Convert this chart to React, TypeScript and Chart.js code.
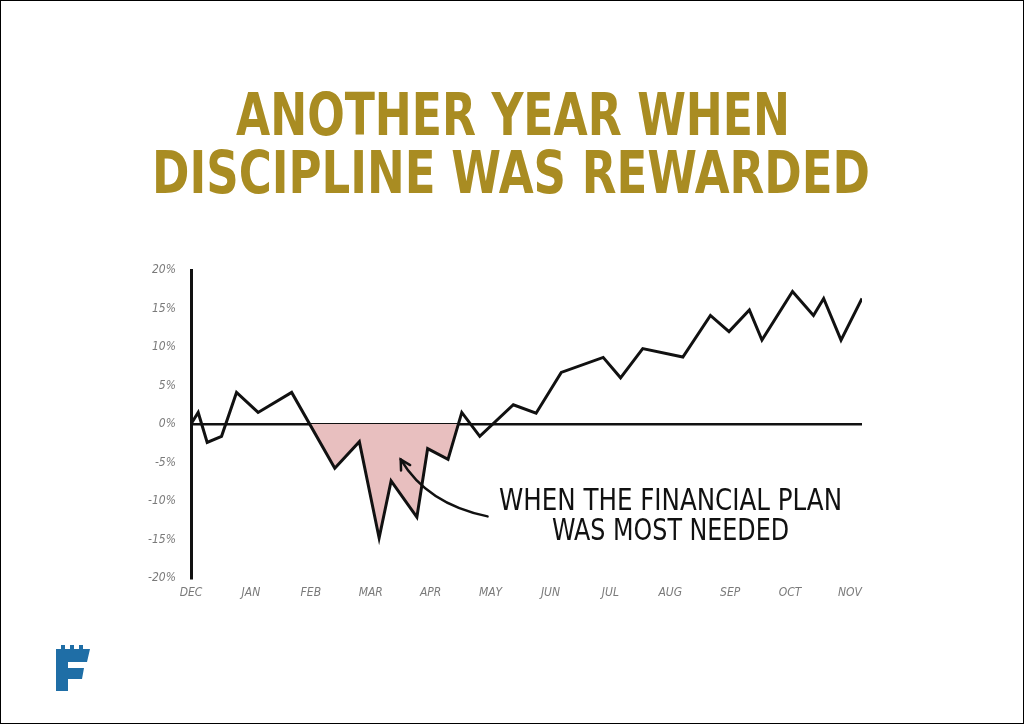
import React, { useEffect, useRef } from "react";
import { Chart, registerables } from "chart.js";

Chart.register(...registerables);

const monthLabels = ["DEC", "JAN", "FEB", "MAR", "APR", "MAY", "JUN", "JUL", "AUG", "SEP", "OCT", "NOV"];
// x in months since DEC, y in percent
const lineX = [0, 0.12, 0.27, 0.51, 0.76, 1.12, 1.68, 2.4, 2.81, 3.14, 3.34, 3.77, 3.95, 4.29, 4.52, 4.82, 5.38, 5.76, 6.18, 6.88, 7.17, 7.54, 8.21, 8.67, 8.98, 9.32, 9.53, 10.04, 10.39, 10.56, 10.85, 11.2];
const lineY = [0, 1.5, -2.4, -1.6, 4.1, 1.5, 4.1, -5.75, -2.3, -14.8, -7.4, -12.1, -3.2, -4.6, 1.5, -1.6, 2.5, 1.4, 6.7, 8.65, 6.0, 9.8, 8.7, 14.1, 12.0, 14.8, 10.9, 17.2, 14.1, 16.3, 10.9, 16.3];
const drawdownX = [1.98, 2.4, 2.81, 3.14, 3.34, 3.77, 3.95, 4.29, 4.46];
const drawdownY = [0, -5.75, -2.3, -14.8, -7.4, -12.1, -3.2, -4.6, 0];
const yTicks = [-20, -15, -10, -5, 0, 5, 10, 15, 20];
const titleLines = ["ANOTHER YEAR WHEN", "DISCIPLINE WAS REWARDED"];
const noteLines = ["WHEN THE FINANCIAL PLAN", "WAS MOST NEEDED"];

const HAND = '"Liberation Sans Narrow", "DejaVu Sans Condensed", "DejaVu Sans", sans-serif';
const BRUSH = '"DejaVu Sans Condensed", "DejaVu Sans", sans-serif';

const decorPlugin = {
  id: "decor",
  afterDraw(chart: any) {
    const ctx = chart.ctx as CanvasRenderingContext2D;
    const xs = chart.scales.x;
    const ys = chart.scales.y;

    const fitText = (txt: string, cx: number, baseY: number, width: number, font: string, color: string) => {
      ctx.save();
      ctx.font = font;
      ctx.fillStyle = color;
      ctx.textAlign = "left";
      ctx.textBaseline = "alphabetic";
      const w = ctx.measureText(txt).width;
      ctx.translate(cx - width / 2, baseY);
      ctx.scale(width / w, 1);
      ctx.fillText(txt, 0, 0);
      ctx.restore();
    };

    // Title
    fitText(titleLines[0], 513, 135, 554, `bold 59px ${BRUSH}`, "#a98c22");
    fitText(titleLines[1], 511, 193, 718, `bold 59px ${BRUSH}`, "#a98c22");

    // Note text
    fitText(noteLines[0], 670.5, 510, 343, `30px ${HAND}`, "#111");
    fitText(noteLines[1], 670.5, 540, 237, `30px ${HAND}`, "#111");

    // Arrow
    const p0x = xs.getPixelForValue(4.95), p0y = ys.getPixelForValue(-12.0);
    const cpx = xs.getPixelForValue(3.94), cpy = ys.getPixelForValue(-10.4);
    const p2x = xs.getPixelForValue(3.5), p2y = ys.getPixelForValue(-4.6);
    ctx.save();
    ctx.strokeStyle = "#111";
    ctx.lineWidth = 2.5;
    ctx.lineCap = "round";
    ctx.beginPath();
    ctx.moveTo(p0x, p0y);
    ctx.quadraticCurveTo(cpx, cpy, p2x, p2y);
    ctx.stroke();
    const ang = Math.atan2(p2y - cpy, p2x - cpx);
    const L = 11;
    ctx.beginPath();
    ctx.moveTo(p2x - L * Math.cos(ang - 0.5), p2y - L * Math.sin(ang - 0.5));
    ctx.lineTo(p2x, p2y);
    ctx.lineTo(p2x - L * Math.cos(ang + 0.5), p2y - L * Math.sin(ang + 0.5));
    ctx.stroke();
    ctx.restore();
  },
};

export default function App() {
  const ref = useRef<HTMLCanvasElement>(null);
  useEffect(() => {
    if (!ref.current) return;
    const chart = new Chart(ref.current, {
      type: "line",
      data: {
        datasets: [
          {
            data: lineX.map((x, i) => ({ x, y: lineY[i] })),
            borderColor: "#111",
            borderWidth: 3,
            pointRadius: 0,
            tension: 0,
            fill: false,
            borderJoinStyle: "miter",
          },
          {
            data: drawdownX.map((x, i) => ({ x, y: drawdownY[i] })),
            borderWidth: 0,
            borderColor: "transparent",
            backgroundColor: "#e8bfbf",
            pointRadius: 0,
            tension: 0,
            fill: "origin",
          },
        ],
      },
      plugins: [decorPlugin],
      options: {
        animation: false,
        responsive: false,
        events: [],
        layout: { padding: { left: 140, right: 162, top: 270, bottom: 116 } },
        plugins: { legend: { display: false }, tooltip: { enabled: false }, title: { display: false } },
        scales: {
          x: {
            type: "linear",
            min: 0,
            max: 11.2,
            afterBuildTicks: (s: any) => {
              s.ticks = monthLabels.map((_, i) => ({ value: i }));
            },
            afterFit: (s: any) => {
              s.height = 30;
            },
            grid: { display: false, drawTicks: false },
            border: { display: false },
            ticks: {
              padding: 8,
              autoSkip: false,
              maxRotation: 0,
              color: "#7a7a7a",
              font: { family: HAND, size: 12, style: "italic" },
              callback: (v: any) => monthLabels[Math.round(v)] ?? "",
            },
          },
          y: {
            min: -20,
            max: 20,
            z: 1,
            afterBuildTicks: (s: any) => {
              s.ticks = yTicks.map((v) => ({ value: v }));
            },
            afterFit: (s: any) => {
              s.width = 51;
            },
            grid: {
              drawTicks: false,
              color: (c: any) => (c.tick && c.tick.value === 0 ? "#111" : "transparent"),
              lineWidth: 2.5,
            },
            border: { display: true, color: "#111", width: 3 },
            ticks: {
              padding: 15,
              color: "#7a7a7a",
              font: { family: HAND, size: 12, style: "italic" },
              callback: (v: any) => `${v}%`,
            },
          },
        },
      },
    } as any);
    return () => chart.destroy();
  }, []);

  return (
    <div
      style={{
        position: "absolute",
        left: 0,
        top: 0,
        width: 1024,
        height: 724,
        border: "1px solid #000",
        boxSizing: "border-box",
        background: "#fff",
        overflow: "hidden",
      }}
    >
      <canvas ref={ref} width={1024} height={724} style={{ position: "absolute", left: -1, top: -1 }} />
      <svg width={34} height={46} viewBox="0 0 34 46" style={{ position: "absolute", left: 55, top: 644 }}>
        <path
          d="M0,4 H5 V0 H9 V4 H14 V0 H18 V4 H23 V0 H27 V4 H34 L31,17 H12 V23 H28 L26,34 H12 V46 H0 Z"
          fill="#1f6ea6"
        />
      </svg>
    </div>
  );
}
